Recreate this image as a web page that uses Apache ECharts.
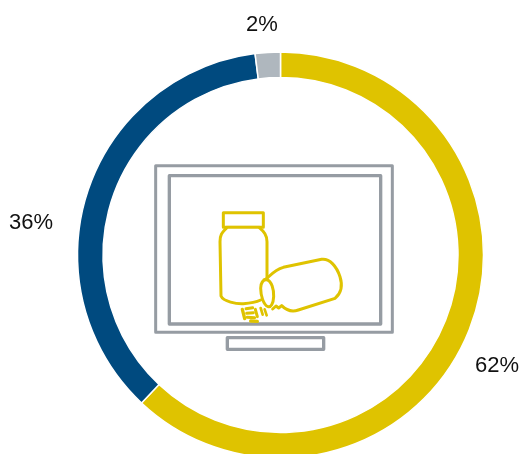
<!DOCTYPE html>
<html>
<head>
<meta charset="utf-8">
<style>html,body{margin:0;padding:0;background:#fff}#chart{width:523px;height:454px}</style>
<script src="https://cdn.jsdelivr.net/npm/echarts@6/dist/echarts.min.js"></script>
</head>
<body>
<div id="chart"></div>
<script>
// Share of each segment, clockwise from twelve o'clock
const shareNames = ['Gold', 'Blue', 'Grey'];
const shareValues = [62, 36, 2];
const shareColors = ['#DFC300', '#004A7F', '#AFB7BE'];
const labelSpots = [[497, 366], [31, 223], [262, 25]];

// Line-art icon, drawn in a 3x grid and scaled down by the group transform
const GREY = '#969CA3';
const GOLD = '#DFC300';
const outline = (d, stroke, w) => ({
  type: 'path',
  shape: { pathData: d },
  style: { fill: 'none', stroke, lineWidth: w, lineJoin: 'round', lineCap: 'round' }
});
const iconParts = [
  outline('M47 47H757V547H47Z', GREY, 9),
  outline('M88 77H722V522H88Z', GREY, 10),
  outline('M262 563H551V598H262Z', GREY, 10),
  // upright bottle
  outline('M250 188H370V232H250Z', GOLD, 9),
  outline('M260 233C250 245 240 250 240 275L243 438C250 455 290 462 310 461C330 460 350 456 362 450', GOLD, 9),
  outline('M358 233C372 245 381 255 381 275L381 386', GOLD, 9),
  outline('M260 229H358', GOLD, 2),
  // tipped bottle
  outline('M372 389C385 388 395 362 430 352L545 328C570 325 590 350 600 380C608 405 605 428 585 445L475 480C455 487 440 482 425 467L416 474L408 468L398 477', GOLD, 9),
  outline('M380 389C395 392 402 420 401 440C400 462 392 473 384 470C370 465 362 435 362 415C362 398 370 388 380 389Z', GOLD, 9),
  // spilled tablets
  outline('M307 478L314 506', GOLD, 10),
  outline('M318 476L338 473', GOLD, 9),
  outline('M320 490L340 488', GOLD, 9),
  outline('M332 513L352 514', GOLD, 10),
  outline('M322 502L344 503', GOLD, 9),
  outline('M346 478L352 500', GOLD, 9),
  outline('M362 474L368 494', GOLD, 8),
  outline('M374 478L380 496', GOLD, 8)
];

const chart = echarts.init(document.getElementById('chart'), null, { renderer: 'canvas' });
chart.setOption({
  animation: false,
  backgroundColor: '#fff',
  series: [{
    type: 'pie',
    center: [280.5, 255],
    radius: [177.5, 203],
    startAngle: 90,
    clockwise: true,
    silent: true,
    avoidLabelOverlap: false,
    itemStyle: { borderColor: '#fff', borderWidth: 1.5 },
    label: {
      show: true,
      formatter: '{c}%',
      fontFamily: 'Liberation Sans',
      fontSize: 22,
      color: '#111',
      overflow: 'none'
    },
    labelLine: { show: false },
    labelLayout: (p) => ({
      x: labelSpots[p.dataIndex][0],
      y: labelSpots[p.dataIndex][1],
      align: 'center',
      verticalAlign: 'middle'
    }),
    data: shareNames.map((name, i) => ({
      name,
      value: shareValues[i],
      itemStyle: { color: shareColors[i] }
    }))
  }, {
    // Monitor and pill bottles in the middle of the ring
    type: 'custom',
    coordinateSystem: 'none',
    silent: true,
    data: [0],
    renderItem: () => ({
      type: 'group',
      x: 140,
      y: 150,
      scaleX: 1 / 3,
      scaleY: 1 / 3,
      children: iconParts
    })
  }]
});
</script>
</body>
</html>
